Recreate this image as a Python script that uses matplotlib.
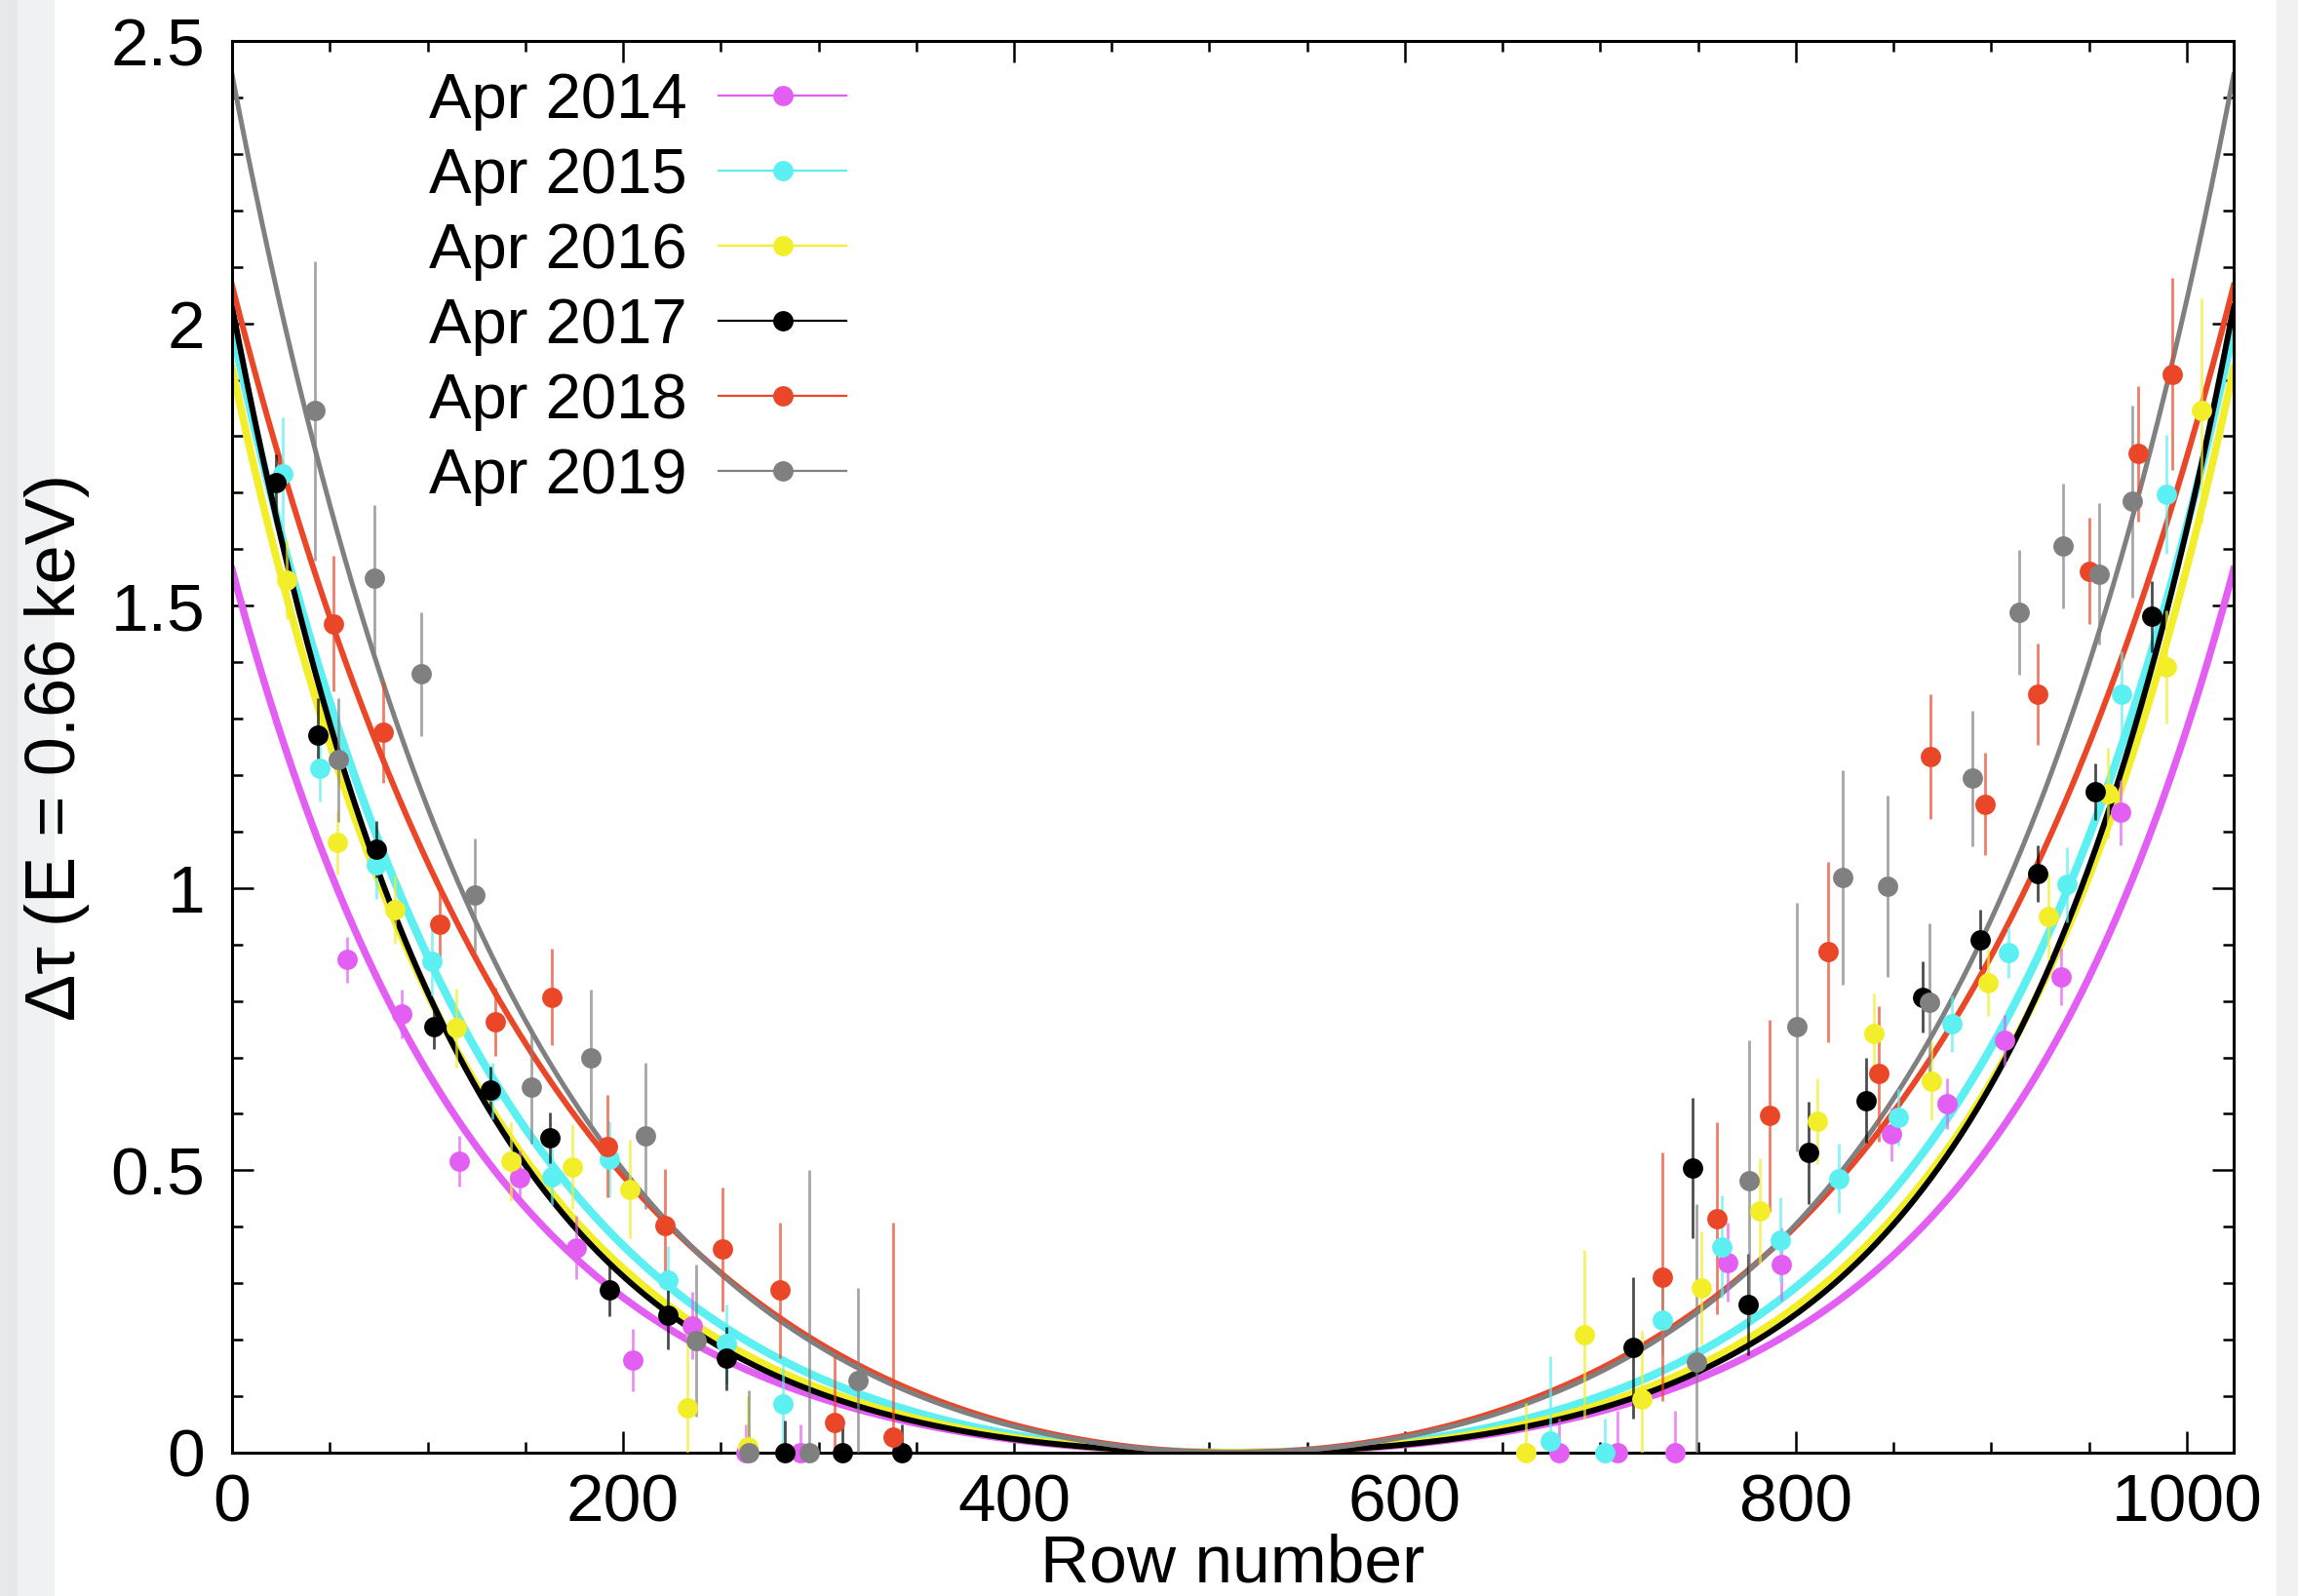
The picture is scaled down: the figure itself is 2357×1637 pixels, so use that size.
import numpy as np
import matplotlib
matplotlib.use("Agg")
import matplotlib.pyplot as plt
from matplotlib.lines import Line2D
from matplotlib.patches import Rectangle

plt.rcParams['font.family'] = ['Liberation Sans', 'DejaVu Sans']

labels = ['Apr 2014', 'Apr 2015', 'Apr 2016', 'Apr 2017', 'Apr 2018', 'Apr 2019']
colors = ['#E35EF2', '#5CF0F2', '#F2EE2A', '#000000', '#EA4628', '#808080']

# measured points: row number, delta tau, error
x2014 = [58.8, 86.9, 116.1, 147.1, 176.2, 205.0, 235.6, 263, 291,
         678.8, 708.9, 738.1, 764.9, 792.7, 848.9, 877.5, 906.7, 935.7, 965.9]
y2014 = [0.873, 0.777, 0.516, 0.487, 0.363, 0.164, 0.225, 0.0, 0.0,
         0.0, 0.0, 0.0, 0.337, 0.334, 0.564, 0.618, 0.73, 0.843, 1.134]
e2014 = [0.04, 0.043, 0.045, 0.048, 0.056, 0.056, 0.06, 0.05, 0.05,
         0.06, 0.074, 0.074, 0.07, 0.065, 0.048, 0.045, 0.045, 0.05, 0.058]

x2015 = [25.9, 45.1, 73.8, 102.4, 133.0, 163.4, 192.9, 222.8, 252.8, 281.6,
         674.3, 702.1, 731.6, 762.1, 792.1, 822.1, 852.2, 880.0, 908.6, 938.9, 966.8, 989.8]
y2015 = [1.733, 1.212, 1.041, 0.87, 0.64, 0.488, 0.52, 0.306, 0.193, 0.086,
         0.021, 0.0, 0.235, 0.365, 0.377, 0.486, 0.594, 0.76, 0.886, 1.006, 1.343, 1.697]
e2015 = [0.1, 0.058, 0.06, 0.06, 0.05, 0.05, 0.067, 0.06, 0.07, 0.085,
         0.15, 0.06, 0.06, 0.09, 0.075, 0.062, 0.05, 0.05, 0.045, 0.066, 0.077, 0.105]

x2016 = [27.9, 53.7, 83.2, 114.7, 142.8, 174.3, 203.5, 233.0, 263.7,
         661.9, 692.0, 721.0, 751.8, 781.8, 811.2, 839.9, 869.4, 898.5, 929.0, 959.7, 989.4, 1007.6]
y2016 = [1.546, 1.08, 0.962, 0.752, 0.516, 0.506, 0.467, 0.079, 0.011,
         0.0, 0.209, 0.095, 0.292, 0.428, 0.587, 0.743, 0.658, 0.833, 0.949, 1.168, 1.392, 1.845]
e2016 = [0.07, 0.056, 0.06, 0.07, 0.07, 0.075, 0.088, 0.13, 0.09,
         0.088, 0.15, 0.12, 0.1, 0.093, 0.076, 0.07, 0.07, 0.06, 0.076, 0.08, 0.1, 0.2]

x2017 = [22.6, 43.7, 73.8, 103.2, 132.4, 162.8, 192.9, 223.0, 252.8, 282.9, 312.4, 342.6,
         716.6, 747.0, 775.8, 806.6, 835.8, 864.8, 894.4, 923.9, 953.1, 982.2]
y2017 = [1.718, 1.271, 1.069, 0.755, 0.643, 0.558, 0.289, 0.243, 0.167, 0.0, 0.0, 0.0,
         0.186, 0.504, 0.262, 0.531, 0.624, 0.807, 0.909, 1.025, 1.17, 1.481]
e2017 = [0.05, 0.066, 0.05, 0.04, 0.04, 0.045, 0.047, 0.06, 0.056, 0.057, 0.05, 0.05,
         0.125, 0.125, 0.09, 0.09, 0.075, 0.063, 0.053, 0.05, 0.05, 0.063]

x2018 = [51.7, 77.5, 106.1, 134.8, 163.4, 192.1, 221.6, 250.8, 280.3, 308.2, 338.2,
         731.6, 759.5, 786.7, 816.7, 842.6, 869.0, 896.6, 923.9, 950.4, 974.9, 992.6]
y2018 = [1.468, 1.276, 0.935, 0.763, 0.807, 0.543, 0.403, 0.36, 0.288, 0.053, 0.028,
         0.311, 0.415, 0.597, 0.887, 0.671, 1.233, 1.149, 1.343, 1.561, 1.769, 1.91]
e2018 = [0.12, 0.09, 0.066, 0.06, 0.086, 0.09, 0.1, 0.11, 0.12, 0.12, 0.38,
         0.22, 0.17, 0.17, 0.16, 0.12, 0.11, 0.09, 0.09, 0.094, 0.12, 0.17]

x2019 = [42.2, 54.4, 72.6, 96.7, 124.4, 153.2, 183.7, 211.4, 237.2, 264.4, 295.5, 320.4,
         749.3, 776.3, 800.3, 824.2, 846.7, 868.4, 890.3, 914.2, 936.6, 955.0, 972.2]
y2019 = [1.845, 1.227, 1.548, 1.379, 0.987, 0.648, 0.70, 0.561, 0.199, 0.0, 0.0, 0.127,
         0.16, 0.481, 0.754, 1.018, 1.003, 0.797, 1.194, 1.488, 1.606, 1.556, 1.685]
e2019 = [0.265, 0.11, 0.13, 0.11, 0.1, 0.1, 0.12, 0.13, 0.135, 0.11, 0.5, 0.165,
         0.28, 0.25, 0.22, 0.19, 0.16, 0.14, 0.12, 0.11, 0.11, 0.125, 0.17]

xs = [x2014, x2015, x2016, x2017, x2018, x2019]
ys = [y2014, y2015, y2016, y2017, y2018, y2019]
es = [e2014, e2015, e2016, e2017, e2018, e2019]

# fitted curves: value at the CCD edge and steepness, symmetric about the centre row
fit_center = 512
fit_edge = [1.564, 1.99, 1.92, 2.03, 2.067, 2.44]
fit_k = [0.008, 0.0077, 0.0082, 0.0088, 0.006, 0.007]
curve_lw = [5.3, 6.0, 5.5, 4.3, 4.3, 3.6]

fig = plt.figure(figsize=(23.57, 16.37), dpi=100)
fig.patches.append(Rectangle((0, 0), 55 / 2357, 1, transform=fig.transFigure,
                             color='#EFF1F3', zorder=-5))
fig.patches.append(Rectangle((0, 0), 17 / 2357, 1, transform=fig.transFigure,
                             color='#E6E8EA', zorder=-4))
fig.patches.append(Rectangle((2335 / 2357, 0), 22 / 2357, 1, transform=fig.transFigure,
                             color='#EFF1F3', zorder=-5))
ax = fig.add_axes([0.1010, 0.0898, 0.8710, 0.8845])

row = np.linspace(0, 1024, 800)
for i in range(len(labels)):
    norm = np.cosh(fit_k[i] * fit_center) - 1
    yfit = fit_edge[i] * (np.cosh(fit_k[i] * (row - fit_center)) - 1) / norm
    ax.plot(row, yfit, color=colors[i], lw=curve_lw[i], zorder=2)

for i in range(len(labels)):
    ax.errorbar(xs[i], ys[i], yerr=es[i], fmt='none', ecolor=colors[i],
                elinewidth=2.0, alpha=0.7, capsize=0, zorder=3)
    ax.plot(xs[i], ys[i], 'o', color=colors[i], ms=15, mew=0, zorder=4, clip_on=False)

ax.set_xlim(0, 1024)
ax.set_ylim(0, 2.5)
ax.set_xticks([0, 200, 400, 600, 800, 1000])
ax.set_xticks(np.arange(0, 1025, 50), minor=True)
ax.set_yticks([0, 0.5, 1, 1.5, 2, 2.5])
ax.set_yticklabels(['0', '0.5', '1', '1.5', '2', '2.5'])
ax.set_yticks(np.arange(0, 2.51, 0.1), minor=True)
ax.tick_params(which='both', direction='in', top=True, right=True, width=1.8, labelsize=50)
ax.tick_params(which='major', length=16)
ax.tick_params(which='minor', length=8)
ax.tick_params(axis='y', pad=20)
ax.tick_params(axis='x', pad=15)
for s in ax.spines.values():
    s.set_linewidth(2.2)

ax.set_xlabel('Row number', fontsize=50, labelpad=-2)
ax.set_ylabel('Δτ (E = 0.66 keV)', fontsize=52)
ax.yaxis.set_label_coords(-0.071, 0.5)

handles = [Line2D([], [], color=colors[i], lw=1.6, marker='o', ms=15, mew=0)
           for i in range(len(labels))]
ax.legend(handles, labels, loc='upper left', bbox_to_anchor=(0.0984, 0.978),
          frameon=False, markerfirst=False, fontsize=47, handlelength=2.0,
          handletextpad=0.5, labelspacing=0.26, borderpad=0, borderaxespad=0)

fig.savefig('out.png', dpi=100)
